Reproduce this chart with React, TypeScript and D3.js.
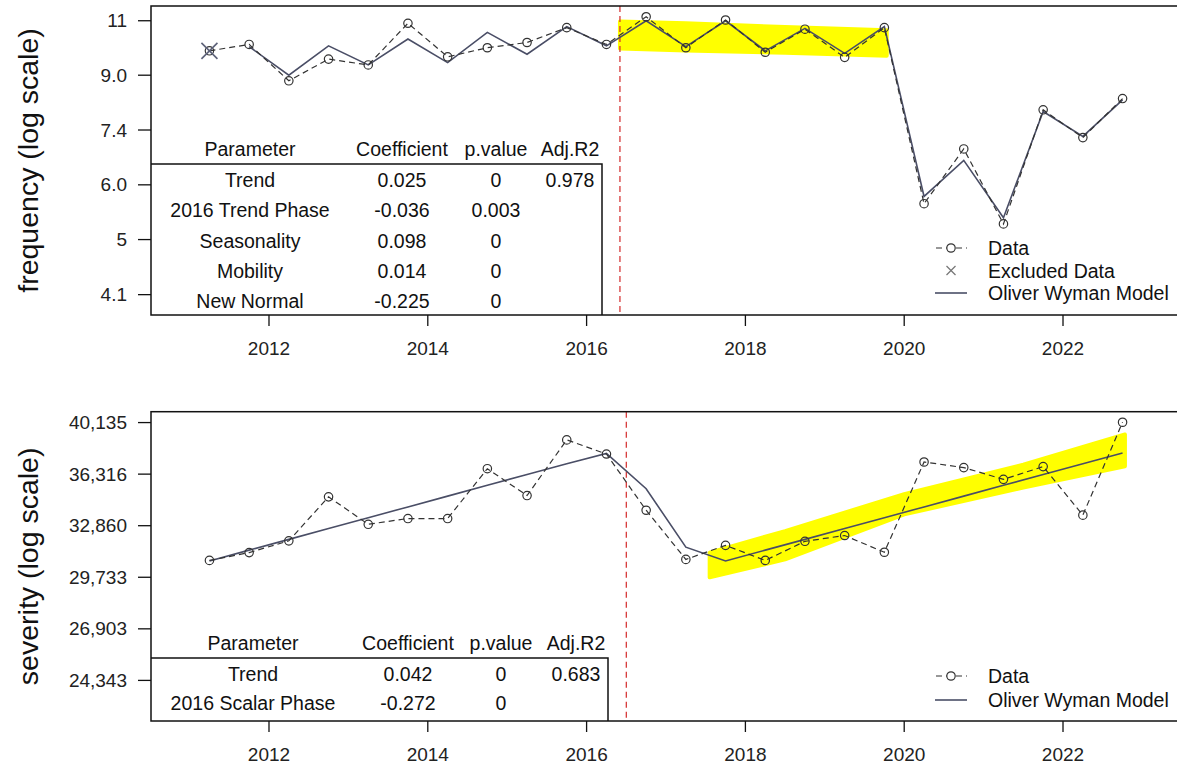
import React from "react";
import * as d3 from "d3";

// ---------- data ----------
const periods = [
  2011.25, 2011.75, 2012.25, 2012.75, 2013.25, 2013.75, 2014.25, 2014.75,
  2015.25, 2015.75, 2016.25, 2016.75, 2017.25, 2017.75, 2018.25, 2018.75,
  2019.25, 2019.75, 2020.25, 2020.75, 2021.25, 2021.75, 2022.25, 2022.75,
];
const freqData = [
  9.87, 10.1, 8.86, 9.58, 9.38, 10.9, 9.66, 9.98, 10.17, 10.73, 10.1, 11.16,
  9.98, 11.03, 9.82, 10.67, 9.64, 10.73, 5.69, 6.93, 5.29, 7.98, 7.22, 8.31,
];
const freqModel: (number | null)[] = [
  null, 10.02, 9.04, 10.05, 9.38, 10.3, 9.46, 10.55, 9.75, 10.77, 10.05, 11.0,
  10.02, 11.0, 9.87, 10.7, 9.78, 10.77, 5.84, 6.65, 5.41, 7.93, 7.25, 8.27,
];
const freqExcludedX = [2011.25];
const freqExcludedY = [9.87];
const sevData = [
  30720, 31190, 31910, 34750, 32950, 33320, 33320, 36700, 34840, 38810, 37760,
  33860, 30780, 31630, 30720, 31880, 32240, 31210, 37180, 36780, 35950, 36850,
  33540, 40160,
];
const sevModel = [
  30690, 31340, 32000, 32680, 33370, 34080, 34800, 35540, 36290, 37060, 37800,
  35300, 31520, 30690, 31340, 32000, 32680, 33370, 34080, 34800, 35540, 36290,
  37060, 37840,
];
const xTicks = [2012, 2014, 2016, 2018, 2020, 2022];
const freqTicks = [4.1, 5.0, 6.09, 7.42, 9.04, 11.0];
const freqTickLabels = ["4.1", "5", "6.0", "7.4", "9.0", "11"];
const sevTicks = [24343, 26903, 29733, 32860, 36316, 40135];

const tableHeader = ["Parameter", "Coefficient", "p.value", "Adj.R2"];
const freqParams = ["Trend", "2016 Trend Phase", "Seasonality", "Mobility", "New Normal"];
const freqCoef = ["0.025", "-0.036", "0.098", "0.014", "-0.225"];
const freqP = ["0", "0.003", "0", "0", "0"];
const freqR2 = ["0.978", "", "", "", ""];
const sevParams = ["Trend", "2016 Scalar Phase"];
const sevCoef = ["0.042", "-0.272"];
const sevP = ["0", "0"];
const sevR2 = ["0.683", ""];

const freqPhaseYear = 2016.42;
const sevPhaseYear = 2016.5;

const freqBandX = [2016.42, 2017.25, 2018.5, 2019.78];
const freqBandHi = [10.97, 10.9, 10.75, 10.63];
const freqBandLo = [9.95, 9.88, 9.8, 9.7];
const sevBandX = [2017.55, 2018.5, 2020, 2021.5, 2022.78];
const sevBandHi = [31190, 32520, 34930, 36990, 39220];
const sevBandLo = [29730, 30780, 33590, 35380, 36870];

const freqLegend = ["Data", "Excluded Data", "Oliver Wyman Model"];
const sevLegend = ["Data", "Oliver Wyman Model"];

// ---------- style ----------
const FONT = "'Liberation Sans', Arial, sans-serif";
const MODEL_COLOR = "#4a4e66";
const DATA_COLOR = "#333333";
const YELLOW = "#ffff00";
const RED = "#d42a2a";
const TEXT_SIZE = 19.5;
const TICK_SIZE = 19;
const TITLE_SIZE = 28.5;

type PanelProps = {
  top: number;
  bottom: number;
  yDomain: [number, number];
  yTicks: number[];
  yTickLabels: string[];
  title: string;
  data: number[];
  model: (number | null)[];
  exX?: number[];
  exY?: number[];
  phase: number;
  bandX: number[];
  bandHi: number[];
  bandLo: number[];
  tParams: string[];
  tCoef: string[];
  tP: string[];
  tR2: string[];
  tableTop: number;
  tableRight: number;
  tableCols: number[];
  rowStep: number;
  legend: string[];
  legendY0: number;
  legendStep: number;
  clipId: string;
};

const LEFT = 151;
const RIGHT = 1181;

function Panel(p: PanelProps) {
  const x = d3.scaleLinear().domain([2010.514, 2023.486]).range([LEFT, RIGHT]);
  const y = d3.scaleLog().domain(p.yDomain).range([p.bottom, p.top]);

  const dataLine = d3
    .line<number>()
    .x((_, i) => x(periods[i]))
    .y((d) => y(d))(p.data) as string;
  const modelLine = d3
    .line<number | null>()
    .defined((d) => d != null)
    .x((_, i) => x(periods[i]))
    .y((d) => y(d as number))(p.model) as string;
  const band = d3
    .area<number>()
    .x((d) => x(d))
    .y0((_, i) => y(p.bandLo[i]))
    .y1((_, i) => y(p.bandHi[i]))
    .curve(d3.curveLinear)(p.bandX) as string;

  const midY = (p.top + p.bottom) / 2;
  const symX = 951;
  const txtX = 988;

  return (
    <g>
      <defs>
        <clipPath id={p.clipId}>
          <rect x={LEFT} y={p.top} width={RIGHT - LEFT} height={p.bottom - p.top} />
        </clipPath>
      </defs>
      <g clipPath={`url(#${p.clipId})`}>
        <path d={band} fill={YELLOW} stroke={YELLOW} strokeWidth={4} strokeLinejoin="round" />
        <line
          x1={x(p.phase)}
          x2={x(p.phase)}
          y1={p.top}
          y2={p.bottom}
          stroke={RED}
          strokeWidth={1.2}
          strokeDasharray="6,4"
        />
        <path d={modelLine} fill="none" stroke={MODEL_COLOR} strokeWidth={1.6} />
        <path d={dataLine} fill="none" stroke={DATA_COLOR} strokeWidth={1.2} strokeDasharray="6,4" />
        {p.data.map((d, i) => (
          <circle key={i} cx={x(periods[i])} cy={y(d)} r={4.2} fill="none" stroke={DATA_COLOR} strokeWidth={1.2} />
        ))}
        {(p.exX || []).map((ex, i) => {
          const cx = x(ex);
          const cy = y((p.exY as number[])[i]);
          const s = 8;
          return (
            <g key={"ex" + i} stroke="#5c6178" strokeWidth={1.6}>
              <line x1={cx - s} y1={cy - s} x2={cx + s} y2={cy + s} />
              <line x1={cx - s} y1={cy + s} x2={cx + s} y2={cy - s} />
            </g>
          );
        })}
      </g>

      {/* table */}
      <g fontFamily={FONT} fontSize={TEXT_SIZE} fill="#111" textAnchor="middle">
        {tableHeader.map((h, j) => (
          <text key={"h" + j} x={p.tableCols[j]} y={p.tableTop - 15} dominantBaseline="central">
            {h}
          </text>
        ))}
        {p.tParams.map((name, i) => {
          const ry = p.tableTop + 16 + i * p.rowStep;
          const cells = [name, p.tCoef[i], p.tP[i], p.tR2[i]];
          return cells.map((c, j) => (
            <text key={i + "-" + j} x={p.tableCols[j]} y={ry} dominantBaseline="central">
              {c}
            </text>
          ));
        })}
        <path
          d={`M${LEFT},${p.tableTop}H${p.tableRight}V${p.bottom}`}
          fill="none"
          stroke="#111"
          strokeWidth={1.5}
        />
      </g>

      {/* legend */}
      <g fontFamily={FONT} fontSize={TEXT_SIZE} fill="#111">
        {p.legend.map((name, i) => {
          const ly = p.legendY0 + i * p.legendStep;
          let sym;
          if (name === "Data") {
            sym = (
              <g>
                <line x1={symX - 16} x2={symX + 16} y1={ly} y2={ly} stroke={DATA_COLOR} strokeWidth={1.2} strokeDasharray="6,4" strokeDashoffset={-1} />
                <circle cx={symX} cy={ly} r={4.2} fill="white" stroke={DATA_COLOR} strokeWidth={1.2} />
              </g>
            );
          } else if (name === "Excluded Data") {
            sym = (
              <g stroke="#777" strokeWidth={1.3}>
                <line x1={symX - 4.5} y1={ly - 4.5} x2={symX + 4.5} y2={ly + 4.5} />
                <line x1={symX - 4.5} y1={ly + 4.5} x2={symX + 4.5} y2={ly - 4.5} />
              </g>
            );
          } else {
            sym = <line x1={symX - 16} x2={symX + 16} y1={ly} y2={ly} stroke={MODEL_COLOR} strokeWidth={1.6} />;
          }
          return (
            <g key={name}>
              {sym}
              <text x={txtX} y={ly} dominantBaseline="central">
                {name}
              </text>
            </g>
          );
        })}
      </g>

      {/* frame */}
      <rect x={LEFT} y={p.top} width={RIGHT - LEFT} height={p.bottom - p.top} fill="none" stroke="#111" strokeWidth={1.5} />

      {/* y axis */}
      <g fontFamily={FONT} fontSize={TICK_SIZE} fill="#222">
        {p.yTicks.map((t, i) => (
          <g key={"yt" + i}>
            <line x1={LEFT - 13} x2={LEFT} y1={y(t)} y2={y(t)} stroke="#111" strokeWidth={1.3} />
            <text x={LEFT - 24} y={y(t)} textAnchor="end" dominantBaseline="central">
              {p.yTickLabels[i]}
            </text>
          </g>
        ))}
      </g>
      {/* x axis */}
      <g fontFamily={FONT} fontSize={TICK_SIZE} fill="#222">
        {xTicks.map((t) => (
          <g key={"xt" + t}>
            <line x1={x(t)} x2={x(t)} y1={p.bottom} y2={p.bottom + 11} stroke="#111" strokeWidth={1.3} />
            <text x={x(t)} y={p.bottom + 33} textAnchor="middle" dominantBaseline="central">
              {String(t)}
            </text>
          </g>
        ))}
      </g>
      <text
        transform={`translate(28,${midY}) rotate(-90)`}
        textAnchor="middle"
        dominantBaseline="central"
        fontFamily={FONT}
        fontSize={TITLE_SIZE}
        fill="#111"
      >
        {p.title}
      </text>
    </g>
  );
}

export default function App() {
  const sevFmt = d3.format(",");
  return (
    <svg
      width={1177}
      height={768}
      style={{ position: "absolute", left: 0, top: 0, background: "white" }}
    >
      <rect width={1177} height={768} fill="white" />
      <Panel
        top={6}
        bottom={315}
        yDomain={[3.81, 11.6]}
        yTicks={freqTicks}
        yTickLabels={freqTickLabels}
        title="frequency (log scale)"
        data={freqData}
        model={freqModel}
        exX={freqExcludedX}
        exY={freqExcludedY}
        phase={freqPhaseYear}
        bandX={freqBandX}
        bandHi={freqBandHi}
        bandLo={freqBandLo}
        tParams={freqParams}
        tCoef={freqCoef}
        tP={freqP}
        tR2={freqR2}
        tableTop={164}
        tableRight={602}
        tableCols={[250, 402, 496, 570]}
        rowStep={30.3}
        legend={freqLegend}
        legendY0={248}
        legendStep={22.5}
        clipId="clipFreq"
      />
      <Panel
        top={411.7}
        bottom={721}
        yDomain={[22500, 40990]}
        yTicks={sevTicks}
        yTickLabels={sevTicks.map((t) => sevFmt(t))}
        title="severity (log scale)"
        data={sevData}
        model={sevModel}
        phase={sevPhaseYear}
        bandX={sevBandX}
        bandHi={sevBandHi}
        bandLo={sevBandLo}
        tParams={sevParams}
        tCoef={sevCoef}
        tP={sevP}
        tR2={sevR2}
        tableTop={658}
        tableRight={608}
        tableCols={[253, 408, 501, 576]}
        rowStep={29}
        legend={sevLegend}
        legendY0={676}
        legendStep={24}
        clipId="clipSev"
      />
    </svg>
  );
}
